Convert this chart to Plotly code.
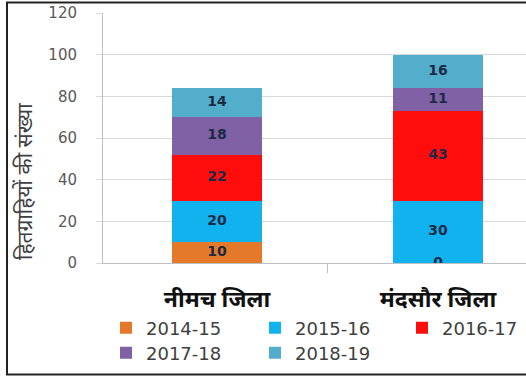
import plotly.graph_objects as go
import numpy as np

# Districts and yearly beneficiary counts
districts = ["नीमच जिला", "मंदसौर जिला"]
years = ["2014-15", "2015-16", "2016-17", "2017-18", "2018-19"]
v_2014_15 = [10, 0]
v_2015_16 = [20, 30]
v_2016_17 = [22, 43]
v_2017_18 = [18, 11]
v_2018_19 = [14, 16]
y_ticks = [0, 20, 40, 60, 80, 100, 120]

series = [v_2014_15, v_2015_16, v_2016_17, v_2017_18, v_2018_19]
colors = ["#E5792A", "#12B2EE", "#FF0D0D", "#8161A6", "#52AECB"]
# which legend box each year goes into (two on the first row, one on the second)
legend_of = ["legend", "legend", "legend2", "legend3", "legend3"]

W, H = 526, 379
L, R, T, B = 103, 0, 13, 116
CAT_PX = 221.0          # pixel distance between category centres
X0_PX = 217.0           # pixel position of the first category centre
COL_PX = 148            # legend column pitch

fig = go.Figure()
for name, vals, col, lg in zip(years, series, colors, legend_of):
    fig.add_trace(go.Bar(
        x=list(range(len(districts))), y=vals, name=name,
        marker=dict(color=col, line=dict(width=0)),
        width=90 / CAT_PX, legend=lg,
    ))

# value labels centred in each segment
base = np.zeros(len(districts))
lx, ly, lt = [], [], []
for vals in series:
    v = np.array(vals, dtype=float)
    for i in range(len(districts)):
        lx.append(i)
        ly.append(base[i] + v[i] / 2)
        lt.append("<b>%d</b>" % vals[i])
    base += v
fig.add_trace(go.Scatter(
    x=lx, y=ly, text=lt, mode="text", showlegend=False, hoverinfo="skip",
    textfont=dict(size=14, color="#1B2A45", family="DejaVu Sans"),
    textposition="middle center",
))

legend_font = dict(size=18, color="#404040", family="DejaVu Sans")
common_legend = dict(
    orientation="h", xref="container", yref="container",
    xanchor="left", yanchor="middle",
    entrywidth=COL_PX - 44, entrywidthmode="pixels",
    font=legend_font, itemwidth=30, traceorder="normal",
    bgcolor="rgba(0,0,0,0)",
)

fig.update_layout(
    barmode="stack",
    width=W, height=H,
    margin=dict(l=L, r=R, t=T, b=B, pad=0, autoexpand=False),
    paper_bgcolor="white", plot_bgcolor="white",
    bargap=0,
    showlegend=True,
    legend=dict(common_legend, x=106 / W, y=1 - 328 / H),
    legend2=dict(common_legend, x=(106 + 2 * COL_PX) / W, y=1 - 328 / H),
    legend3=dict(common_legend, x=106 / W, y=1 - 353 / H),
    xaxis=dict(
        range=[-(X0_PX - L) / CAT_PX, (W - R - X0_PX) / CAT_PX],
        tickvals=[0, 1], ticktext=["<b>%s</b>" % d for d in districts],
        tickfont=dict(size=23, color="#111111", family="Noto Sans"),
        showgrid=False, zeroline=False,
        showline=True, linecolor="#BFBFBF", linewidth=1,
        ticks="", ticklabelstandoff=15,
    ),
    yaxis=dict(
        range=[0, 120], tickvals=y_ticks,
        tickfont=dict(size=15, color="#595959", family="DejaVu Sans"),
        showgrid=True, gridcolor="#D9D9D9", gridwidth=1,
        zeroline=False, showline=True, linecolor="#BFBFBF", linewidth=1,
        ticks="outside", ticklen=6, tickcolor="#D9D9D9",
        ticklabelstandoff=16,
    ),
)

# category separator tick on the x axis
fig.add_shape(type="line", xref="x", yref="paper", x0=0.5, x1=0.5,
              y0=0, y1=-0.04, line=dict(color="#BFBFBF", width=1))


def px(xp):
    return (xp - L) / (W - L - R)


def py(yp):
    return (H - B - yp) / (H - T - B)


# y-axis title
fig.add_annotation(
    text="हितग्राहियों की संख्या", textangle=-90,
    xref="paper", yref="paper", x=px(24), y=py(182),
    xanchor="center", yanchor="middle", showarrow=False,
    font=dict(size=21, color="#404040", family="Noto Sans"),
)

# outer frame (left, top, bottom)
frame = dict(color="#222222", width=2)
fig.add_shape(type="line", xref="paper", yref="paper",
              x0=px(7), x1=px(7), y0=py(2), y1=py(375), line=frame)
fig.add_shape(type="line", xref="paper", yref="paper",
              x0=px(6), x1=px(W + 2), y0=py(2.5), y1=py(2.5), line=frame)
fig.add_shape(type="line", xref="paper", yref="paper",
              x0=px(6), x1=px(W + 2), y0=py(374.5), y1=py(374.5), line=frame)

fig.write_html("out.html")
